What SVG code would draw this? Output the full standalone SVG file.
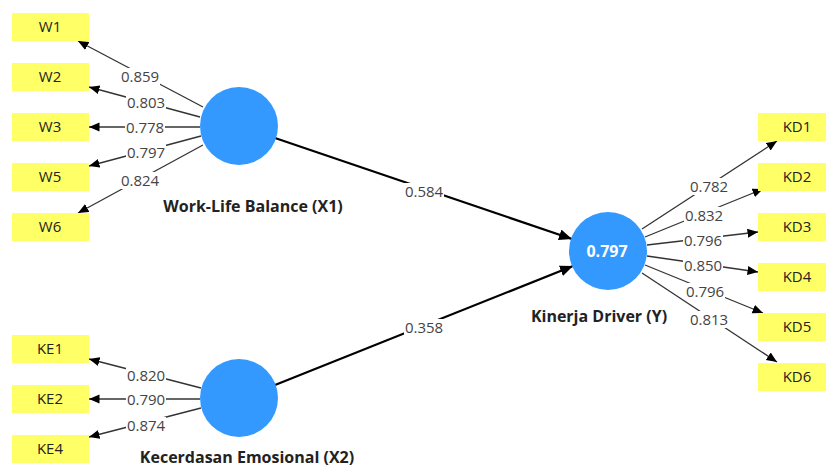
<svg xmlns="http://www.w3.org/2000/svg" width="826" height="468" viewBox="0 0 826 468">
<defs>
<style>
.box{fill:#ffff66}
.bt{font-family:"Open Sans","Noto Sans",sans-serif;font-size:15px;fill:#222;text-anchor:middle}
.circ{fill:#3399ff}
.name{font-family:"Open Sans","Noto Sans",sans-serif;font-size:16px;font-weight:bold;fill:#222;text-anchor:middle}
.ind{stroke:#333;stroke-width:1.3;fill:none}
.path{stroke:#000;stroke-width:2.2;fill:none}
.lb{fill:#fff}
.lt{font-family:"Open Sans","Noto Sans",sans-serif;font-size:15px;fill:#444;text-anchor:middle}
</style>
<marker id="ah" markerWidth="11" markerHeight="10" refX="10.5" refY="4.5" orient="auto" markerUnits="userSpaceOnUse"><path d="M0,0 L10.5,4.5 L0,9 z" fill="#000"/></marker>
<marker id="ahb" markerWidth="14" markerHeight="12" refX="13" refY="5.5" orient="auto" markerUnits="userSpaceOnUse"><path d="M0,0 L13,5.5 L0,11 z" fill="#000"/></marker>
</defs>

<g id="connectors">
<line class="ind" x1="203" y1="107" x2="78" y2="41" marker-end="url(#ah)"/>
<line class="ind" x1="200" y1="117" x2="89" y2="87" marker-end="url(#ah)"/>
<line class="ind" x1="200" y1="127" x2="89" y2="127" marker-end="url(#ah)"/>
<line class="ind" x1="201" y1="136" x2="89" y2="166" marker-end="url(#ah)"/>
<line class="ind" x1="203" y1="145" x2="78" y2="213" marker-end="url(#ah)"/>
<line class="ind" x1="201" y1="388" x2="89" y2="359" marker-end="url(#ah)"/>
<line class="ind" x1="200" y1="399" x2="89" y2="399" marker-end="url(#ah)"/>
<line class="ind" x1="201" y1="408" x2="89" y2="437" marker-end="url(#ah)"/>
<line class="ind" x1="642" y1="229" x2="777" y2="141" marker-end="url(#ah)"/>
<line class="ind" x1="645" y1="237" x2="763" y2="189" marker-end="url(#ah)"/>
<line class="ind" x1="647" y1="245" x2="758" y2="232" marker-end="url(#ah)"/>
<line class="ind" x1="647" y1="256" x2="758" y2="272" marker-end="url(#ah)"/>
<line class="ind" x1="645" y1="265" x2="763" y2="313" marker-end="url(#ah)"/>
<line class="ind" x1="642" y1="273" x2="777" y2="362" marker-end="url(#ah)"/>
<line class="path" x1="275" y1="138" x2="572" y2="239" marker-end="url(#ahb)"/>
<line class="path" x1="275" y1="385" x2="573" y2="266" marker-end="url(#ahb)"/>

<rect class="lb" x="120" y="68" width="40" height="17"/><text class="lt" x="140" y="81.5">0.859</text>
<rect class="lb" x="126" y="94" width="40" height="17"/><text class="lt" x="146" y="107.5">0.803</text>
<rect class="lb" x="125" y="119" width="40" height="17"/><text class="lt" x="145" y="132.5">0.778</text>
<rect class="lb" x="126" y="144" width="40" height="17"/><text class="lt" x="146" y="157.5">0.797</text>
<rect class="lb" x="120" y="172" width="40" height="17"/><text class="lt" x="140" y="185.5">0.824</text>
<rect class="lb" x="126" y="367" width="40" height="17"/><text class="lt" x="146" y="380.5">0.820</text>
<rect class="lb" x="126" y="391" width="40" height="17"/><text class="lt" x="146" y="404.5">0.790</text>
<rect class="lb" x="126" y="417" width="40" height="17"/><text class="lt" x="146" y="430.5">0.874</text>
<rect class="lb" x="689" y="178" width="40" height="17"/><text class="lt" x="709" y="191.5">0.782</text>
<rect class="lb" x="684" y="207" width="40" height="17"/><text class="lt" x="704" y="220.5">0.832</text>
<rect class="lb" x="683" y="232" width="40" height="17"/><text class="lt" x="703" y="245.5">0.796</text>
<rect class="lb" x="683" y="257" width="40" height="17"/><text class="lt" x="703" y="270.5">0.850</text>
<rect class="lb" x="685" y="283" width="40" height="17"/><text class="lt" x="705" y="296.5">0.796</text>
<rect class="lb" x="689" y="311" width="40" height="17"/><text class="lt" x="709" y="324.5">0.813</text>
<rect class="lb" x="404" y="183" width="40" height="17"/><text class="lt" x="424" y="196.5">0.584</text>
<rect class="lb" x="404" y="319" width="40" height="17"/><text class="lt" x="424" y="332.5">0.358</text>
</g>

<g id="W1"><rect class="box" x="12" y="13" width="77" height="28"/><text class="bt" x="50" y="32">W1</text></g>
<g id="W2"><rect class="box" x="12" y="63" width="77" height="28"/><text class="bt" x="50" y="82">W2</text></g>
<g id="W3"><rect class="box" x="12" y="113" width="77" height="28"/><text class="bt" x="50" y="132">W3</text></g>
<g id="W5"><rect class="box" x="12" y="163" width="77" height="28"/><text class="bt" x="50" y="182">W5</text></g>
<g id="W6"><rect class="box" x="12" y="213" width="77" height="28"/><text class="bt" x="50" y="232">W6</text></g>
<g id="KE1"><rect class="box" x="12" y="335" width="77" height="28"/><text class="bt" x="50" y="354">KE1</text></g>
<g id="KE2"><rect class="box" x="12" y="385" width="77" height="28"/><text class="bt" x="50" y="404">KE2</text></g>
<g id="KE4"><rect class="box" x="12" y="435" width="77" height="28"/><text class="bt" x="50" y="454">KE4</text></g>
<g id="KD1"><rect class="box" x="758" y="113" width="78" height="28"/><text class="bt" x="797" y="132">KD1</text></g>
<g id="KD2"><rect class="box" x="758" y="163" width="78" height="28"/><text class="bt" x="797" y="182">KD2</text></g>
<g id="KD3"><rect class="box" x="758" y="213" width="78" height="28"/><text class="bt" x="797" y="232">KD3</text></g>
<g id="KD4"><rect class="box" x="758" y="263" width="78" height="28"/><text class="bt" x="797" y="282">KD4</text></g>
<g id="KD5"><rect class="box" x="758" y="313" width="78" height="28"/><text class="bt" x="797" y="332">KD5</text></g>
<g id="KD6"><rect class="box" x="758" y="363" width="78" height="28"/><text class="bt" x="797" y="382">KD6</text></g>

<g id="X1"><circle class="circ" cx="239" cy="126" r="39"/><text class="name" x="253" y="212">Work-Life Balance (X1)</text></g>
<g id="X2"><circle class="circ" cx="239" cy="398" r="39"/><text class="name" x="247" y="463">Kecerdasan Emosional (X2)</text></g>
<g id="Y"><circle class="circ" cx="608" cy="251" r="39"/><text class="name" x="607" y="257" style="fill:#fff">0.797</text><text class="name" x="599" y="322">Kinerja Driver (Y)</text></g>
</svg>
